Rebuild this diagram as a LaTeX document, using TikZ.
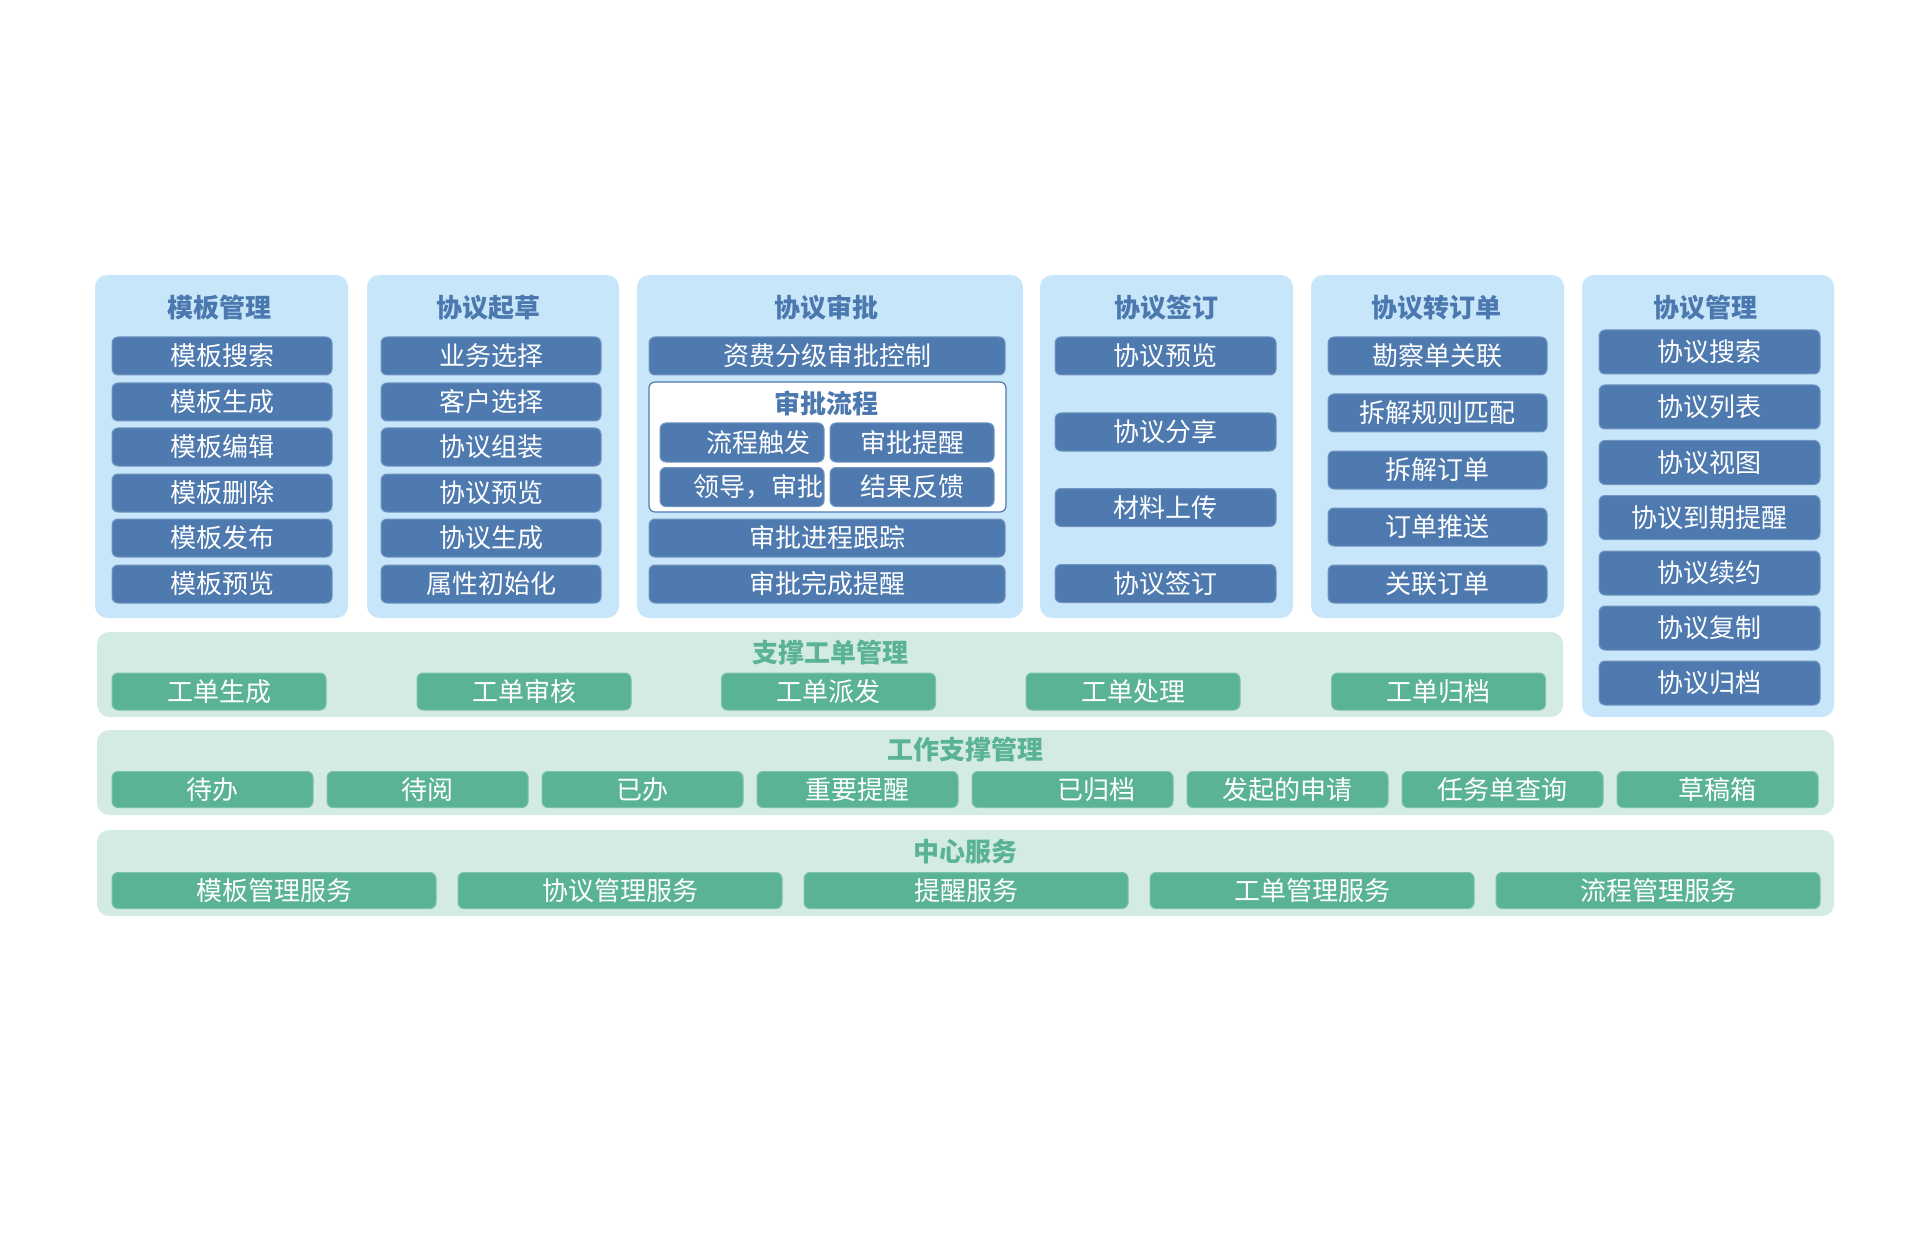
\documentclass[tikz,border=0pt]{standalone}
\usepackage{fontspec}
\setmainfont{Noto Sans CJK SC}
\usepackage{tikz}
\definecolor{panelblue}{RGB}{200,230,249}
\definecolor{itemblue}{RGB}{78,122,176}
\definecolor{titleblue}{RGB}{74,120,175}
\definecolor{panelgreen}{RGB}{212,235,225}
\definecolor{itemgreen}{RGB}{90,179,151}
\tikzset{
	% Panel, box and title styles: blue for modules, green for services
	blue panel/.style={rectangle,rounded corners=12,fill=panelblue,inner sep=0},
	green panel/.style={rectangle,rounded corners=12,fill=panelgreen,inner sep=0},
	blue item/.style={rectangle,rounded corners=6,fill=itemblue,draw=itemblue!80!white,line width=1,text=white,inner sep=0,minimum height=38},
	green item/.style={rectangle,rounded corners=6,fill=itemgreen,draw=itemgreen!80!white,line width=1,text=white,inner sep=0,minimum height=36},
	blue title/.style={font=\fontsize{26}{30}\selectfont\bfseries,text=titleblue,inner sep=0},
	green title/.style={font=\fontsize{26}{30}\selectfont\bfseries,text=itemgreen,inner sep=0}
}

\begin{document}
\begin{tikzpicture}[x=1pt,y=-1pt,font=\fontsize{26}{30}\selectfont]
			% macro for inputing function boxes
			\newcommand{\bluebox}[4][]{\node[blue item,#1](#2)at(#3){#4};}
			\newcommand{\greenbox}[4][]{\node[green item,#1](#2)at(#3){#4};}
			\useasboundingbox (0,0) rectangle (1920,1246);
			
			% module panels
			\node(1)[blue panel,minimum width=253,minimum height=343] at (221.5,446.5) {};
			\node(2)[blue panel,minimum width=252,minimum height=343] at (493,446.5) {};
			\node(3)[blue panel,minimum width=386,minimum height=343] at (830,446.5) {};
			\node(4)[blue panel,minimum width=253,minimum height=343] at (1166.5,446.5) {};
			\node(5)[blue panel,minimum width=253,minimum height=343] at (1437.5,446.5) {};
			\node(6)[blue panel,minimum width=252,minimum height=442] at (1708,496) {};
			
			\node(1-0)[blue title] at (219,308) {模板管理};
			\node(2-0)[blue title] at (488,308) {协议起草};
			\node(3-0)[blue title] at (826,308) {协议审批};
			\node(4-0)[blue title] at (1166.5,308) {协议签订};
			\node(5-0)[blue title] at (1436,308) {协议转订单};
			\node(6-0)[blue title] at (1705,308) {协议管理};
			
			\bluebox[minimum width=220]{1-1}{222,356}{模板搜索}
			\bluebox[minimum width=220]{1-2}{222,402}{模板生成}
			\bluebox[minimum width=220]{1-3}{222,447}{模板编辑}
			\bluebox[minimum width=220]{1-4}{222,493}{模板删除}
			\bluebox[minimum width=220]{1-5}{222,538}{模板发布}
			\bluebox[minimum width=220]{1-6}{222,584}{模板预览}
			
			\bluebox[minimum width=220]{2-1}{491,356}{业务选择}
			\bluebox[minimum width=220]{2-2}{491,402}{客户选择}
			\bluebox[minimum width=220]{2-3}{491,447}{协议组装}
			\bluebox[minimum width=220]{2-4}{491,493}{协议预览}
			\bluebox[minimum width=220]{2-5}{491,538}{协议生成}
			\bluebox[minimum width=220]{2-6}{491,584}{属性初始化}
			
			\bluebox[minimum width=356]{3-1}{827,356}{资费分级审批控制}
			\node(3-2)[rectangle,rounded corners=6,fill=white,draw=itemblue,line width=1.2,minimum width=357,minimum height=130] at (827.5,447) {};
			\node(3-2-0)[blue title] at (826,403) {审批流程};
			\bluebox[minimum width=164,minimum height=39]{3-2-1}{742,442.5}{\hspace*{32pt}流程触发}
			\bluebox[minimum width=164,minimum height=39]{3-2-2}{912,442.5}{审批提醒}
			\bluebox[minimum width=164,minimum height=39]{3-2-3}{742,487}{\hspace*{32pt}领导，审批}
			\bluebox[minimum width=164,minimum height=39]{3-2-4}{912,487}{结果反馈}
			\bluebox[minimum width=356]{3-3}{827,538}{审批进程跟踪}
			\bluebox[minimum width=356]{3-4}{827,584}{审批完成提醒}
			
			\bluebox[minimum width=221]{4-1}{1165.5,356}{协议预览}
			\bluebox[minimum width=221]{4-2}{1165.5,432}{协议分享}
			\bluebox[minimum width=221]{4-3}{1165.5,507.5}{材料上传}
			\bluebox[minimum width=221]{4-4}{1165.5,583.5}{协议签订}
			
			\bluebox[minimum width=219]{5-1}{1437.5,356}{勘察单关联}
			\bluebox[minimum width=219]{5-2}{1437.5,413}{拆解规则匹配}
			\bluebox[minimum width=219]{5-3}{1437.5,470}{拆解订单}
			\bluebox[minimum width=219]{5-4}{1437.5,527}{订单推送}
			\bluebox[minimum width=219]{5-5}{1437.5,584}{关联订单}
			
			\bluebox[minimum width=221,minimum height=44]{6-1}{1709.5,352}{协议搜索}
			\bluebox[minimum width=221,minimum height=44]{6-2}{1709.5,407}{协议列表}
			\bluebox[minimum width=221,minimum height=44]{6-3}{1709.5,462.5}{协议视图}
			\bluebox[minimum width=221,minimum height=44]{6-4}{1709.5,517.5}{协议到期提醒}
			\bluebox[minimum width=221,minimum height=44]{6-5}{1709.5,573}{协议续约}
			\bluebox[minimum width=221,minimum height=44]{6-6}{1709.5,628}{协议复制}
			\bluebox[minimum width=221,minimum height=44]{6-7}{1709.5,683}{协议归档}
			
			% service layers
			\node(7)[green panel,minimum width=1466,minimum height=85] at (830,674.5) {};
			\node(7-0)[green title] at (830,653) {支撑工单管理};
			\greenbox[minimum width=214,minimum height=37]{7-1}{219,691.5}{工单生成}
			\greenbox[minimum width=214,minimum height=37]{7-2}{524,691.5}{工单审核}
			\greenbox[minimum width=214,minimum height=37]{7-3}{828.5,691.5}{工单派发}
			\greenbox[minimum width=214,minimum height=37]{7-4}{1133,691.5}{工单处理}
			\greenbox[minimum width=214,minimum height=37]{7-5}{1438.5,691.5}{工单归档}
			
			\node(8)[green panel,minimum width=1737,minimum height=85] at (965.5,772.5) {};
			\node(8-0)[green title] at (965.5,750) {工作支撑管理};
			\greenbox[minimum width=201]{8-1}{212.5,789.5}{待办}
			\greenbox[minimum width=201]{8-2}{427.5,789.5}{待阅}
			\greenbox[minimum width=201]{8-3}{642.5,789.5}{已办}
			\greenbox[minimum width=201]{8-4}{857.5,789.5}{重要提醒}
			\greenbox[minimum width=201]{8-5}{1072.5,789.5}{\hspace*{48pt}已归档}
			\greenbox[minimum width=201]{8-6}{1287.5,789.5}{发起的申请}
			\greenbox[minimum width=201]{8-7}{1502.5,789.5}{任务单查询}
			\greenbox[minimum width=201]{8-8}{1717.5,789.5}{草稿箱}
			
			\node(9)[green panel,minimum width=1737,minimum height=86] at (965.5,873) {};
			\node(9-0)[green title] at (965.5,852) {中心服务};
			\greenbox[minimum width=324]{9-1}{274,890.5}{模板管理服务}
			\greenbox[minimum width=324]{9-2}{620,890.5}{协议管理服务}
			\greenbox[minimum width=324]{9-3}{966,890.5}{提醒服务}
			\greenbox[minimum width=324]{9-4}{1312,890.5}{工单管理服务}
			\greenbox[minimum width=324]{9-5}{1658,890.5}{流程管理服务}
		\end{tikzpicture}
\end{document}
